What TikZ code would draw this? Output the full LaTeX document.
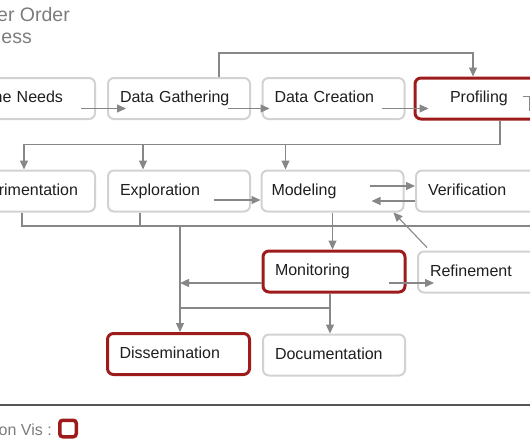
\documentclass[tikz,border=0pt]{standalone}
\usepackage{fontspec}
\setmainfont{Liberation Sans}
\usepackage{xcolor}
\usetikzlibrary{positioning, arrows.meta}

\definecolor{boxgray}{HTML}{D2D2D2}
\definecolor{linegray}{HTML}{878787}
\definecolor{vizred}{HTML}{9E1B1B}
\definecolor{titlegray}{HTML}{7C7C7C}
\definecolor{inkgray}{HTML}{1E1E1E}
\definecolor{rulegray}{HTML}{555555}

\begin{document}
\begin{tikzpicture}[
            x=1pt, y=-1pt,
            stage/.style={draw=boxgray, line width=2pt, rounded corners=6pt,
                minimum width=142pt, minimum height=41pt, inner xsep=12pt,
                text width=118pt, align=left, text height=11.5pt, text depth=3.5pt,
                font=\fontsize{16}{19}\selectfont, text=inkgray},
            hot/.style={stage, draw=vizred, line width=3pt},
            flow/.style={draw=linegray, line width=1.1pt, -{Triangle[length=9pt, width=8pt]}},
            wire/.style={draw=linegray, line width=1.1pt},
        ]
            \useasboundingbox (0,0) rectangle (530,442);

            % heading, cropped at the left
            \node[anchor=base east, inner sep=0pt, text=titlegray, font=\fontsize{19.5}{22}\selectfont] (title) at (70,21) {er Order};
            \node[anchor=base east, inner sep=0pt, text=titlegray, font=\fontsize{19.5}{22}\selectfont] (subtitle) at (32,43) {ess};

            % first row
            \node[stage, align=right, text width=78pt, inner xsep=32pt] (needs) at (24,98.5) {ne Needs};
            \node[stage] (gather) at (179,98.5) {Data Gathering};
            \node[stage] (create) at (333.5,98.5) {Data Creation};
            \node[hot, text width=72pt, inner xsep=35pt] (profile) at (486,98.5) {Profiling};

            % second row
            \node[stage, align=right, text width=108pt, inner xsep=17pt] (expt) at (24,191) {rimentation};
            \node[stage] (explore) at (179,191) {Exploration};
            \node[stage, inner xsep=10pt, text width=122pt] (model) at (332.5,191) {Modeling};
            \node[stage] (verify) at (487,191) {Verification};

            % third row
            \node[hot] (monitor) at (334,271.5) {Monitoring};
            \node[stage] (refine) at (489,272) {Refinement};

            % fourth row
            \node[hot] (dissem) at (178.5,354) {Dissemination};
            \node[stage] (docu) at (334,355) {Documentation};

            % helper points
            \coordinate (split) at ([xshift=14pt,yshift=-24pt]profile.south);
            \coordinate (exA) at ([xshift=-36pt]explore.north);
            \coordinate (moA) at ([xshift=-47pt]model.north);
            \coordinate (busR) at (531,226);
            \coordinate (exB) at ([xshift=-39pt]explore.south);
            \coordinate (diA) at ([xshift=1.5pt]dissem.north);
            \coordinate (diJ) at ([yshift=24pt]diA);
            \coordinate (moL) at ([yshift=-11.5pt]monitor.west);
            \coordinate (moB) at ([xshift=-4pt]monitor.south);
            \coordinate (pfT) at ([xshift=-29pt,yshift=-12pt]profile.east);

            % first row links
            \draw[flow] ([xshift=-15pt,yshift=-10pt]needs.east) -- ([xshift=19pt,yshift=-10pt]gather.west);
            \draw[flow] ([xshift=-23pt,yshift=-10pt]gather.east) -- ([xshift=8pt,yshift=-10pt]create.west);
            \draw[flow] ([xshift=-24pt,yshift=-10pt]create.east) -- ([xshift=15pt,yshift=-10pt]profile.west);
            \draw[flow] ([xshift=40pt]gather.north) -- ++(0,-24) -| ([xshift=-13pt]profile.north);
            \draw[wire] ([xshift=-36pt,yshift=2pt]profile.east) -| (pfT);

            % down to the second row
            \draw[flow] ([xshift=14pt]profile.south) -- (split) -| (expt.north);
            \draw[flow] (split -| exA) -- (exA);
            \draw[flow] (split -| moA) -- (moA);

            % second row links
            \draw[flow] ([xshift=-37pt,yshift=-9pt]explore.east) -- ([yshift=-9pt]model.west);
            \draw[flow] ([xshift=-35pt,yshift=5pt]model.east) -- ([yshift=5pt]verify.west);
            \draw[flow] ([yshift=-10pt]verify.west) -- ([xshift=-33pt,yshift=-10pt]model.east);
            \draw[flow] ([xshift=10pt,yshift=3pt]refine.north west) -- ([xshift=-11pt]model.south east);

            % collecting line
            \draw[wire] ([xshift=-2pt]expt.south) |- (busR);
            \draw[wire] (exB) -- (exB |- busR);
            \draw[flow] (model.south) -- (model.south |- monitor.north);
            \draw[flow] (diA |- busR) -- (diA);

            % third row links
            \draw[flow] (moL) -- (moL -| diA);
            \draw[flow] ([xshift=-18pt,yshift=-11.5pt]monitor.east) -- ([xshift=17pt,yshift=-11pt]refine.west);
            \draw[flow] (moB) -- (moB |- docu.north);
            \draw[wire] (diJ) -- (diJ -| moB);

            % legend
            \draw[draw=rulegray, line width=1.5pt] (0,405) -- (530,405);
            \node[anchor=base east, inner sep=0pt, text=titlegray, font=\fontsize{16}{19}\selectfont] (keytext) at (52,435) {on Vis :};
            \node[draw=vizred, line width=3.5pt, rounded corners=3pt, minimum size=16.5pt, inner sep=0pt] (key) at (68,428.5) {};
        \end{tikzpicture}
\end{document}
